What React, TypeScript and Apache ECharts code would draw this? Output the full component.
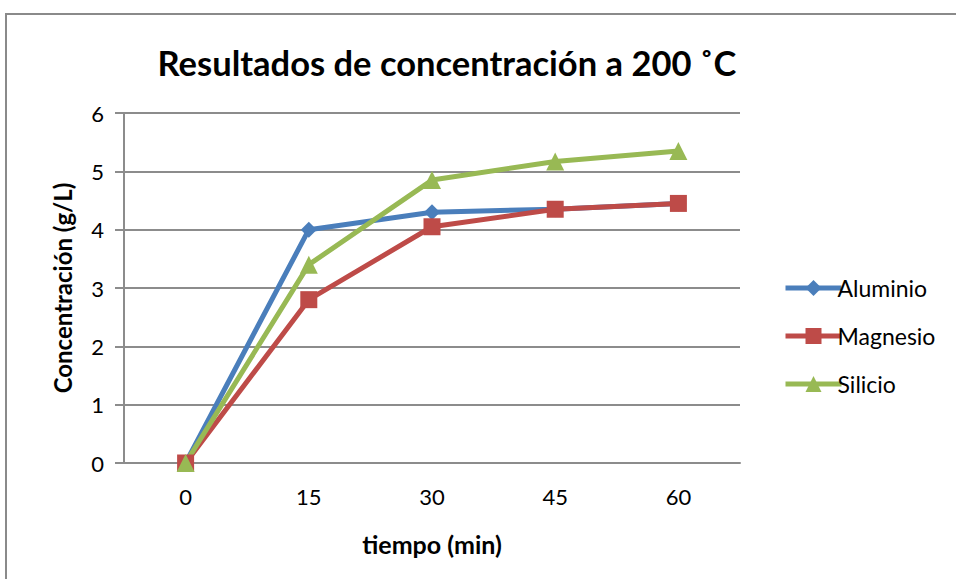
import React, { useEffect, useRef } from "react";
import * as echarts from "echarts";

const tiempos = ["0", "15", "30", "45", "60"];
const aluminio = [0, 4.0, 4.3, 4.35, 4.45];
const magnesio = [0, 2.8, 4.05, 4.35, 4.45];
const silicio = [0, 3.4, 4.85, 5.17, 5.35];
const yTicks = [0, 1, 2, 3, 4, 5, 6];

const FONT = "Lato";
const GRID = "#8c8c8c";

export default function App() {
  const ref = useRef<HTMLDivElement>(null);

  useEffect(() => {
    if (!ref.current) return;
    const chart = echarts.init(ref.current, undefined, { renderer: "svg" });

    const series = [
      { name: "Aluminio", data: aluminio, color: "#4a7ebb", symbol: "diamond", size: 16 },
      { name: "Magnesio", data: magnesio, color: "#be4b48", symbol: "rect", size: 17 },
      { name: "Silicio", data: silicio, color: "#98b954", symbol: "triangle", size: 18 },
    ];

    chart.setOption({
      animation: false,
      backgroundColor: "#ffffff",
      title: {
        text: "Resultados de concentración a 200 ˚C",
        left: 442,
        top: 40,
        textAlign: "center",
        textStyle: { fontFamily: FONT, fontWeight: "bold", fontSize: 34.5, color: "#000" },
      },
      graphic: [
        {
          type: "polyline",
          shape: { points: [[6, 579], [6, 14], [956, 14]] },
          style: { stroke: "#8a8a8a", lineWidth: 2, fill: "none" },
          silent: true,
        },
      ],
      legend: {
        orient: "vertical",
        left: 778,
        top: 270,
        itemGap: 22,
        itemWidth: 56,
        itemHeight: 20,
        lineStyle: { width: 5 },
        textStyle: {
          fontFamily: FONT,
          fontSize: 23,
          lineHeight: 26,
          color: "#000",
          padding: [0, 0, 0, -9],
        },
        data: series.map((s) => s.name),
      },
      grid: { left: 124, right: 216, top: 113, bottom: 116 },
      xAxis: {
        type: "category",
        data: tiempos,
        boundaryGap: true,
        name: "tiempo (min)",
        nameLocation: "middle",
        nameGap: 68,
        nameTextStyle: { fontFamily: FONT, fontWeight: "bold", fontSize: 25, color: "#000" },
        axisLine: { lineStyle: { color: GRID, width: 2 } },
        axisTick: { show: false },
        axisLabel: { fontFamily: FONT, fontSize: 22, color: "#000", margin: 22 },
      },
      yAxis: {
        type: "value",
        min: yTicks[0],
        max: yTicks[yTicks.length - 1],
        interval: 1,
        name: "Concentración (g/L)",
        nameLocation: "middle",
        nameRotate: 90,
        nameGap: 50,
        nameTextStyle: { fontFamily: FONT, fontWeight: "bold", fontSize: 24, color: "#000" },
        axisLine: { show: true, lineStyle: { color: GRID, width: 2 } },
        axisTick: { show: true, inside: false, length: 9, lineStyle: { color: GRID, width: 2 } },
        axisLabel: { fontFamily: FONT, fontSize: 22, color: "#000", margin: 20 },
        splitLine: { show: true, lineStyle: { color: GRID, width: 2 } },
      },
      series: series.map((s) => ({
        name: s.name,
        type: "line",
        data: s.data,
        symbol: s.symbol,
        symbolSize: s.size,
        showAllSymbol: true,
        itemStyle: { color: s.color },
        lineStyle: { color: s.color, width: 5 },
      })),
    });

    return () => chart.dispose();
  }, []);

  return (
    <div
      ref={ref}
      style={{ position: "fixed", left: 0, top: 0, width: 956, height: 579, background: "#fff" }}
    />
  );
}
